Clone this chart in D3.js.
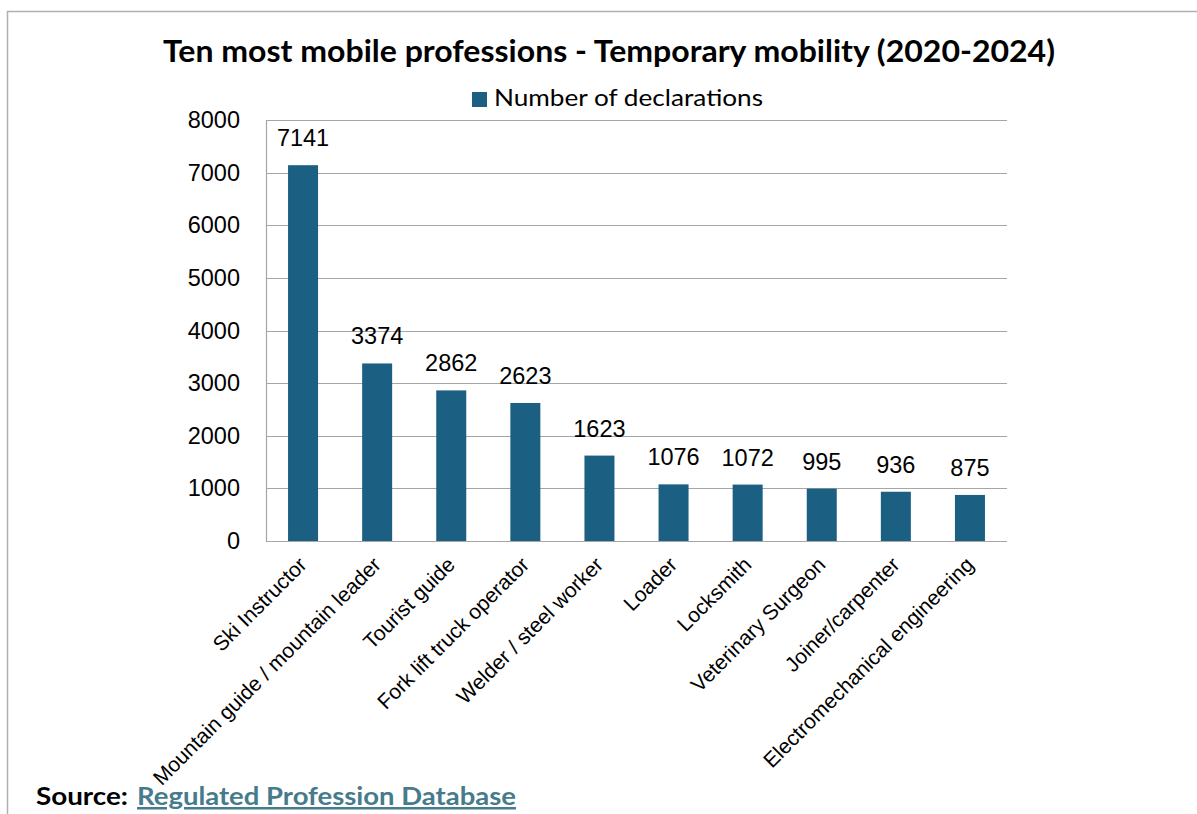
<!DOCTYPE html>
<html><head><meta charset="utf-8">
<script src="https://cdn.jsdelivr.net/npm/d3@7"></script>
<style>body{margin:0;background:#fff}svg{display:block}</style>
</head><body>
<svg id="c" width="1197" height="814"></svg>
<script>
const categories = ["Ski Instructor","Mountain guide / mountain leader","Tourist guide","Fork lift truck operator","Welder / steel worker","Loader","Locksmith","Veterinary Surgeon","Joiner/carpenter","Electromechanical engineering"];
const values = [7141,3374,2862,2623,1623,1076,1072,995,936,875];
const yTicks = [0,1000,2000,3000,4000,5000,6000,7000,8000];
const seriesName = "Number of declarations";
const titleText = "Ten most mobile professions - Temporary mobility (2020-2024)";

const svg = d3.select("#c");
const m = {left:266, right:1007, top:120, bottom:541};
const barColor = "#1b6083";
const gridColor = "#a6a6a6";

// frame
svg.append("path").attr("d","M7.5,814 L7.5,11.5 L1197,11.5").attr("fill","none").attr("stroke","#b0b0b0").attr("stroke-width",1.5);

const x = d3.scaleBand().domain(categories).range([m.left,m.right]).paddingInner(0.595).paddingOuter(0.2975);
const y = d3.scaleLinear().domain([0,8000]).range([m.bottom,m.top]);

// gridlines
svg.append("g").selectAll("line").data(yTicks).join("line")
  .attr("x1",m.left).attr("x2",m.right)
  .attr("y1",d=>Math.round(y(d))+0.5).attr("y2",d=>Math.round(y(d))+0.5)
  .attr("stroke",gridColor).attr("stroke-width",1.2);
// left axis line
svg.append("line").attr("x1",m.left+0.5).attr("x2",m.left+0.5).attr("y1",m.top).attr("y2",m.bottom+0.5).attr("stroke",gridColor).attr("stroke-width",1.2);

// y tick labels
const yAxis = d3.axisLeft(y).tickValues(yTicks).tickSize(0).tickPadding(26).tickFormat(d3.format("d"));
const ya = svg.append("g").attr("transform",`translate(${m.left},0)`).call(yAxis);
ya.select(".domain").remove();
ya.selectAll("text").attr("font-family","'Liberation Sans',Arial,sans-serif").attr("font-size",23.5).attr("fill","#000");

// bars
svg.append("g").selectAll("rect").data(values).join("rect")
  .attr("x",(d,i)=>x(categories[i])).attr("width",x.bandwidth())
  .attr("y",d=>y(d)).attr("height",d=>y(0)-y(d)).attr("fill",barColor);

// data labels
svg.append("g").selectAll("text").data(values).join("text")
  .attr("x",(d,i)=>x(categories[i])+x.bandwidth()/2).attr("y",d=>y(d)-19)
  .attr("text-anchor","middle").attr("font-family","'Liberation Sans',Arial,sans-serif").attr("font-size",23.5).attr("fill","#000")
  .text(d=>d);

// x labels
const xAxis = d3.axisBottom(x).tickSize(0).tickPadding(0);
const xa = svg.append("g").attr("transform",`translate(0,${m.bottom})`).call(xAxis);
xa.select(".domain").remove();
xa.selectAll(".tick text")
  .attr("font-family","'Liberation Sans',Arial,sans-serif").attr("font-size",21).attr("fill","#000")
  .attr("text-anchor","end").attr("dy",null).attr("y",null)
  .attr("transform","translate(5,25) rotate(-45)");

// title
svg.append("text").attr("x",609).attr("y",62).attr("text-anchor","middle")
  .attr("font-family","Lato,'Open Sans',sans-serif").attr("font-weight","bold").attr("font-size",30)
  .attr("textLength",892).attr("lengthAdjust","spacingAndGlyphs").attr("fill","#000").text(titleText);

// legend
svg.append("rect").attr("x",472).attr("y",92).attr("width",15).attr("height",15).attr("fill",barColor);
svg.append("text").attr("x",494).attr("y",106).attr("font-family","Lato,'Open Sans',sans-serif").attr("font-size",24)
  .attr("textLength",269).attr("lengthAdjust","spacingAndGlyphs").attr("fill","#000").text(seriesName);

// source
svg.append("text").attr("x",36).attr("y",805).attr("font-family","Lato,'Open Sans',sans-serif").attr("font-weight","bold").attr("font-size",25)
  .attr("textLength",92).attr("lengthAdjust","spacingAndGlyphs").attr("fill","#000").text("Source:");
svg.append("text").attr("x",137).attr("y",805).attr("font-family","Lato,'Open Sans',sans-serif").attr("font-weight","bold").attr("font-size",25)
  .attr("textLength",379).attr("lengthAdjust","spacingAndGlyphs").attr("fill","#467b8c").attr("text-decoration","underline")
  .text("Regulated Profession Database");
</script>
</body></html>
